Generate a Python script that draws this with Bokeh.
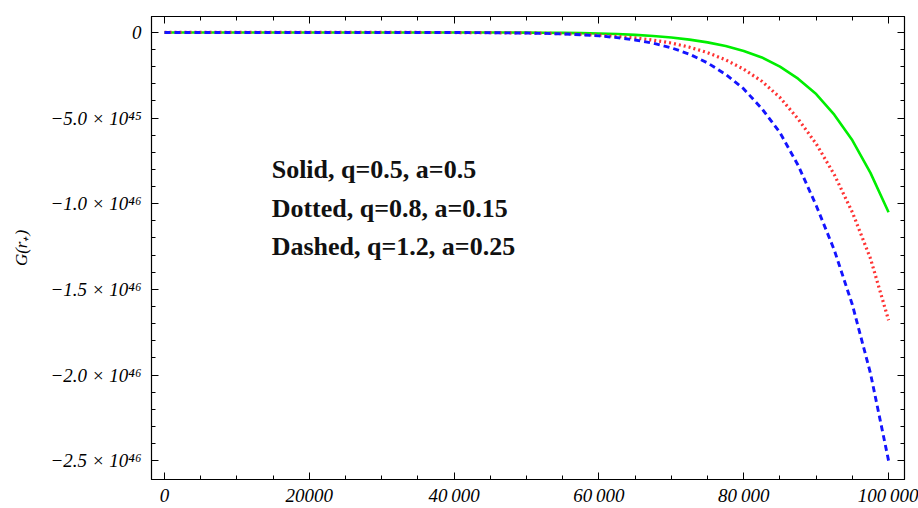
from bokeh.plotting import figure
from bokeh.models import (Range1d, FixedTicker, LinearAxis, CustomJSTickFormatter, Label)
from bokeh.embed import file_html
from bokeh.resources import INLINE

# ---- data (y in units of 1e45) ----
x_vals = [0, 10000, 20000, 30000, 40000, 45000, 50000, 52500, 55000, 57500, 60000,
          62500, 65000, 67500, 70000, 72500, 75000, 77500, 80000, 82500, 85000,
          87500, 90000, 92500, 95000, 97500, 100000]
solid_g = [0, 0, 0, 0, -0.002, -0.005, -0.01, -0.016, -0.026, -0.04, -0.063,
           -0.095, -0.14, -0.21, -0.30, -0.42, -0.58, -0.79, -1.08, -1.46, -2.0,
           -2.7, -3.6, -4.8, -6.3, -8.2, -10.5]
dotted_r = [0, 0, 0, 0, -0.005, -0.015, -0.033, -0.05, -0.075, -0.11, -0.16,
            -0.23, -0.32, -0.45, -0.62, -0.86, -1.18, -1.6, -2.15, -2.85, -3.8,
            -5.05, -6.5, -8.3, -10.5, -13.2, -16.8]
dashed_b = [0, 0, 0, 0, -0.005, -0.016, -0.037, -0.058, -0.09, -0.135, -0.2,
            -0.30, -0.44, -0.63, -0.9, -1.27, -1.78, -2.45, -3.3, -4.45, -5.85,
            -7.75, -10.1, -12.7, -15.9, -19.9, -25.0]
SCALE = 1e45

x_ticks = [0, 20000, 40000, 60000, 80000, 100000]
x_tick_labels = ["0", "20000", "40\u2009000", "60\u2009000", "80\u2009000", "100\u2009000"]
y_ticks = [0, -5e45, -1.0e46, -1.5e46, -2.0e46, -2.5e46]
y_tick_labels = ["0", "\u22125.0 \u00d7 10\u2074\u2075", "\u22121.0 \u00d7 10\u2074\u2076",
                 "\u22121.5 \u00d7 10\u2074\u2076", "\u22122.0 \u00d7 10\u2074\u2076",
                 "\u22122.5 \u00d7 10\u2074\u2076"]
notes = ["Solid, q=0.5, a=0.5", "Dotted, q=0.8, a=0.15", "Dashed, q=1.2, a=0.25"]

p = figure(width=918, height=508, output_backend="svg", toolbar_location=None,
           x_range=Range1d(-1800, 102200), y_range=Range1d(-2.61e46, 9.3e44),
           min_border_left=151, min_border_right=14, min_border_top=16, min_border_bottom=26)
p.xgrid.visible = False
p.ygrid.visible = False
p.outline_line_color = "black"
p.outline_line_width = 1.2
p.background_fill_color = "white"
p.border_fill_color = "white"

ys = lambda arr: [v * SCALE for v in arr]
p.line(x_vals, ys(solid_g), line_color="#00ee00", line_width=2.6)
p.line(x_vals, ys(dotted_r), line_color="#ff3333", line_width=3.2, line_dash="2 3")
p.line(x_vals, ys(dashed_b), line_color="#1414ff", line_width=2.9, line_dash="6 4")

x_minor = [v for v in range(0, 100001, 5000) if v % 20000 != 0]
y_minor = [-k * 1e45 for k in range(0, 26) if k % 5 != 0]

font = "Liberation Serif"

def style(ax, labels=None, ticks=None, minor=None):
    ax.ticker = FixedTicker(ticks=ticks, minor_ticks=minor)
    ax.major_tick_in = 7
    ax.major_tick_out = 0
    ax.minor_tick_in = 4
    ax.minor_tick_out = 0
    ax.axis_line_color = "black"
    ax.major_tick_line_color = "black"
    ax.minor_tick_line_color = "black"
    ax.major_label_text_font = font
    ax.major_label_text_font_style = "italic"
    ax.major_label_text_font_size = "19px"
    ax.major_label_text_color = "black"
    if labels is None:
        ax.formatter = CustomJSTickFormatter(code="return '';")
        ax.major_label_standoff = 0
    else:
        ax.formatter = CustomJSTickFormatter(args=dict(labels=labels),
                                             code="return labels[index];")

xa = p.xaxis[0]
style(xa, x_tick_labels, x_ticks, x_minor)
xa.major_label_standoff = 5
ya = p.yaxis[0]
style(ya, y_tick_labels, y_ticks, y_minor)
ya.major_label_standoff = 10
ya.axis_label = "G(r\u208a)"
ya.axis_label_text_font = font
ya.axis_label_text_font_style = "italic"
ya.axis_label_text_font_size = "17px"
ya.axis_label_text_color = "black"
ya.axis_label_standoff = 16

top = LinearAxis()
style(top, None, x_ticks, x_minor)
p.add_layout(top, "above")
right = LinearAxis()
style(right, None, y_ticks, y_minor)
p.add_layout(right, "right")

for i, t in enumerate(notes):
    p.add_layout(Label(x=14800, y=-8.0e45 - i * 2.25e45, text=t, text_font=font,
                       text_font_style="bold", text_font_size="26px",
                       text_baseline="middle", text_color="#111111"))

open("out.html", "w").write(file_html(p, INLINE))
